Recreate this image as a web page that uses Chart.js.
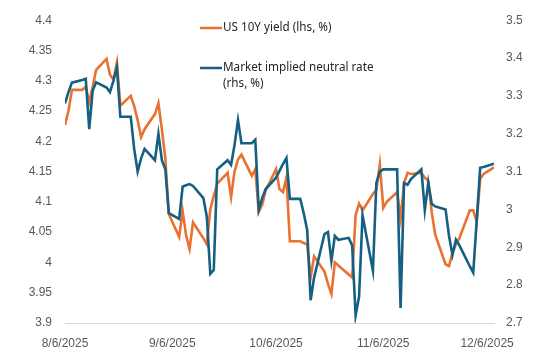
<!DOCTYPE html>
<html>
<head>
<meta charset="utf-8">
<script src="https://cdn.jsdelivr.net/npm/chart.js@4.4.1/dist/chart.umd.min.js"></script>
<style>
  html, body { margin: 0; padding: 0; background: #ffffff; }
  #wrap { width: 543px; height: 359px; position: relative; }
</style>
</head>
<body>
<div id="wrap"><canvas id="c" width="543" height="359"></canvas></div>
<script>
// ---- data ----
const dates = [
  '2025-08-06','2025-08-07','2025-08-08','2025-08-11','2025-08-12','2025-08-13','2025-08-14','2025-08-15',
  '2025-08-18','2025-08-19','2025-08-20','2025-08-21','2025-08-22','2025-08-25','2025-08-26','2025-08-27',
  '2025-08-28','2025-08-29','2025-09-01','2025-09-02','2025-09-03','2025-09-04','2025-09-05','2025-09-08',
  '2025-09-09','2025-09-10','2025-09-11','2025-09-12','2025-09-15','2025-09-16','2025-09-17','2025-09-18',
  '2025-09-19','2025-09-22','2025-09-23','2025-09-24','2025-09-25','2025-09-26','2025-09-29','2025-09-30',
  '2025-10-01','2025-10-02','2025-10-03','2025-10-06','2025-10-07','2025-10-08','2025-10-09','2025-10-10',
  '2025-10-13','2025-10-14','2025-10-15','2025-10-16','2025-10-17','2025-10-20','2025-10-21','2025-10-22',
  '2025-10-23','2025-10-24','2025-10-27','2025-10-28','2025-10-29','2025-10-30','2025-10-31','2025-11-03',
  '2025-11-04','2025-11-05','2025-11-06','2025-11-07','2025-11-10','2025-11-11','2025-11-12','2025-11-13',
  '2025-11-14','2025-11-17','2025-11-18','2025-11-19','2025-11-20','2025-11-21','2025-11-24','2025-11-25',
  '2025-11-26','2025-11-27','2025-11-28','2025-12-01','2025-12-02','2025-12-03','2025-12-04','2025-12-05',
  '2025-12-08'
];
const us10y = [
  4.227,4.250,4.285,4.285,4.290,4.265,4.290,4.318,
  4.336,4.310,4.302,4.330,4.259,4.275,4.258,4.235,
  4.207,4.220,4.245,4.263,4.220,4.172,4.080,4.042,
  4.085,4.045,4.022,4.066,4.040,4.030,4.088,4.110,
  4.130,4.148,4.108,4.150,4.170,4.178,4.143,4.154,
  4.083,4.095,4.119,4.154,4.121,4.116,4.140,4.035,
  4.035,4.032,4.030,3.975,4.010,3.985,3.965,3.948,
  4.000,3.995,3.980,3.975,4.078,4.097,4.086,4.113,
  4.120,4.162,4.090,4.100,4.116,4.073,4.130,4.148,
  4.146,4.148,4.140,4.135,4.083,4.046,3.997,3.994,
  4.016,4.030,4.040,4.086,4.086,4.067,4.138,4.146,
  4.157
];
const neutralRate = [
  3.280,3.310,3.335,3.342,3.345,3.212,3.314,3.336,
  3.322,3.310,3.340,3.375,3.245,3.245,3.160,3.100,
  3.135,3.160,3.130,3.200,3.130,3.106,2.990,2.975,
  3.060,3.064,3.067,3.062,3.030,2.980,2.830,2.840,
  3.106,3.130,3.118,3.170,3.236,3.175,3.175,3.184,
  3.000,3.030,3.054,3.084,3.102,3.120,3.136,3.028,
  3.028,2.990,2.946,2.760,2.820,2.935,2.940,2.864,
  2.930,2.920,2.925,2.905,2.720,2.770,2.985,2.838,
  3.070,3.100,3.106,3.106,3.106,2.740,3.070,3.065,
  3.080,3.106,2.998,3.071,3.015,3.008,3.000,2.930,
  2.880,2.920,2.905,2.850,2.833,2.970,3.110,3.112,
  3.121
];
const seriesNames = ['US 10Y yield (lhs, %)', 'Market implied neutral rate (rhs, %)'];
const legendLines = [['US 10Y yield (lhs, %)'], ['Market implied neutral rate', '(rhs, %)']];
const tickDates = ['2025-08-06','2025-09-06','2025-10-06','2025-11-06','2025-12-06'];
const tickLabels = ['8/6/2025','9/6/2025','10/6/2025','11/6/2025','12/6/2025'];
const axisStart = '2025-08-06';
const axisEnd = '2025-12-08';

// ---- helpers ----
function dayNum(s) {
  const p = s.split('-').map(Number);
  return Date.UTC(p[0], p[1] - 1, p[2]) / 86400000;
}
const d0 = dayNum(axisStart);
const toX = s => dayNum(s) - d0;
const tickDays = tickDates.map(toX);

const fmt = v => String(parseFloat(Number(v).toFixed(2)));

const COL_ORANGE = '#E97132';
const COL_BLUE = '#156082';
const TICK_COLOR = '#595959';
const TICK_FONT = { family: 'Liberation Sans, Arial, sans-serif', size: 12 };

const legendPlugin = {
  id: 'customLegend',
  afterDraw(chart) {
    const ctx = chart.ctx;
    ctx.save();
    const pos = [{ y: 28 }, { y: 68 }];
    chart.data.datasets.forEach((ds, i) => {
      const y = pos[i].y;
      ctx.strokeStyle = ds.borderColor;
      ctx.lineWidth = 2.5;
      ctx.beginPath();
      ctx.moveTo(200, y);
      ctx.lineTo(222, y);
      ctx.stroke();
      ctx.fillStyle = '#262626';
      ctx.font = '11.7px "Noto Sans", sans-serif';
      ctx.textBaseline = 'middle';
      ctx.textAlign = 'left';
      legendLines[i].forEach((t, k) => ctx.fillText(t, 223, y + k * 16));
    });
    ctx.restore();
  }
};

new Chart(document.getElementById('c'), {
  type: 'line',
  data: {
    datasets: [
      {
        label: seriesNames[0],
        data: dates.map((d, i) => ({ x: toX(d), y: us10y[i] })),
        yAxisID: 'y',
        borderColor: COL_ORANGE,
        backgroundColor: COL_ORANGE,
        borderWidth: 2.6,
        pointRadius: 0,
        tension: 0,
        order: 2
      },
      {
        label: seriesNames[1],
        data: dates.map((d, i) => ({ x: toX(d), y: neutralRate[i] })),
        yAxisID: 'y1',
        borderColor: COL_BLUE,
        backgroundColor: COL_BLUE,
        borderWidth: 2.6,
        pointRadius: 0,
        tension: 0,
        order: 1
      }
    ]
  },
  options: {
    responsive: false,
    animation: false,
    devicePixelRatio: 1,
    layout: { padding: { top: 11, left: 0, right: 0, bottom: 0 } },
    plugins: { legend: { display: false }, tooltip: { enabled: false } },
    scales: {
      x: {
        type: 'linear',
        min: 0,
        max: toX(axisEnd),
        afterBuildTicks: s => { s.ticks = tickDays.map(v => ({ value: v })); },
        afterFit: s => { s.height = 36; },
        ticks: {
          autoSkip: false,
          maxRotation: 0,
          padding: 13,
          color: TICK_COLOR,
          font: TICK_FONT,
          callback: v => { const k = tickDays.indexOf(v); return k >= 0 ? tickLabels[k] : ''; }
        },
        grid: { display: false, drawTicks: false },
        border: { display: true, color: '#d9d9d9', width: 1 }
      },
      y: {
        position: 'left',
        min: 3.9,
        max: 4.4,
        afterFit: s => { s.width = 65; },
        ticks: { stepSize: 0.05, padding: 13, color: TICK_COLOR, font: TICK_FONT, callback: fmt },
        grid: { display: false, drawTicks: false },
        border: { display: false }
      },
      y1: {
        position: 'right',
        min: 2.7,
        max: 3.5,
        afterFit: s => { s.width = 49; },
        ticks: { stepSize: 0.1, padding: 12, color: TICK_COLOR, font: TICK_FONT, callback: fmt },
        grid: { display: false, drawTicks: false },
        border: { display: false }
      }
    }
  },
  plugins: [legendPlugin]
});
</script>
</body>
</html>
